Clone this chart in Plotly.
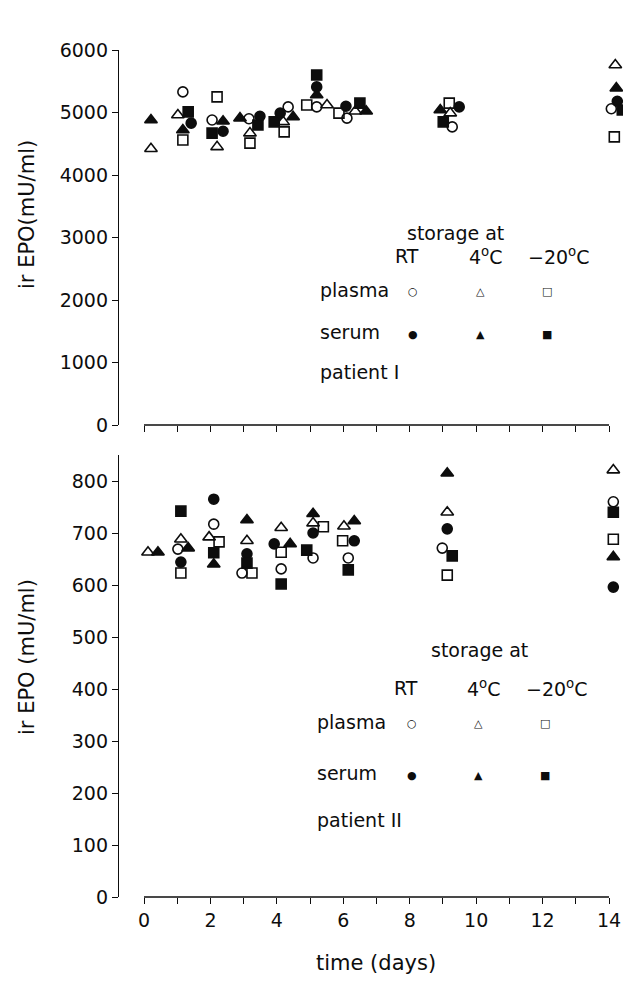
import plotly.graph_objects as go

W, H = 623, 983

# ---------------- Patient I (top panel) ----------------
I_plasma_RT_x = [1.17, 2.05, 3.16, 4.34, 5.2, 6.11, 9.28, 14.07]
I_plasma_RT_y = [5330, 4880, 4900, 5090, 5090, 4910, 4770, 5060]
I_plasma_4C_x = [0.21, 1.02, 2.2, 3.19, 4.19, 5.51, 6.36, 9.22, 14.19]
I_plasma_4C_y = [4420, 4960, 4450, 4670, 4850, 5120, 5020, 4990, 5760]
I_plasma_m20_x = [1.17, 2.2, 3.19, 4.22, 4.9, 5.87, 9.19, 14.16]
I_plasma_m20_y = [4560, 5250, 4510, 4690, 5120, 4990, 5150, 4610]
I_serum_RT_x = [1.42, 2.38, 3.49, 4.1, 5.2, 6.08, 9.49, 14.25]
I_serum_RT_y = [4830, 4700, 4940, 4990, 5410, 5100, 5090, 5180]
I_serum_4C_x = [0.21, 1.17, 2.38, 2.89, 4.49, 5.2, 6.69, 8.92, 14.22]
I_serum_4C_y = [4880, 4720, 4860, 4910, 4930, 5280, 5020, 5040, 5390]
I_serum_m20_x = [1.33, 2.05, 3.43, 3.92, 5.2, 6.5, 9.01, 14.4]
I_serum_m20_y = [5010, 4670, 4800, 4850, 5600, 5150, 4850, 5040]

# ---------------- Patient II (bottom panel) ----------------
II_plasma_RT_x = [1.02, 2.1, 2.95, 4.13, 5.09, 6.15, 8.98, 14.13]
II_plasma_RT_y = [669, 717, 623, 631, 652, 652, 671, 760]
II_plasma_4C_x = [0.12, 1.11, 1.96, 3.1, 4.13, 5.09, 6.02, 9.13, 14.13]
II_plasma_4C_y = [663, 688, 692, 685, 710, 719, 713, 740, 821]
II_plasma_m20_x = [1.11, 2.26, 3.25, 4.13, 5.4, 5.98, 9.13, 14.13]
II_plasma_m20_y = [623, 683, 623, 663, 712, 685, 619, 688]
II_serum_RT_x = [1.11, 2.1, 3.1, 3.92, 5.09, 6.33, 9.13, 14.13]
II_serum_RT_y = [644, 765, 660, 679, 700, 685, 708, 596]
II_serum_4C_x = [0.42, 1.33, 2.1, 3.1, 4.4, 5.09, 6.33, 9.13, 14.13]
II_serum_4C_y = [663, 671, 640, 725, 679, 737, 723, 815, 654]
II_serum_m20_x = [1.11, 2.1, 3.1, 4.13, 4.9, 6.15, 9.28, 14.13]
II_serum_m20_y = [742, 662, 642, 602, 667, 629, 656, 740]

x_major = [0, 2, 4, 6, 8, 10, 12, 14]
x_minor = [1, 3, 5, 7, 9, 11, 13]
top_yticks = [0, 1000, 2000, 3000, 4000, 5000, 6000]
bot_yticks = [0, 100, 200, 300, 400, 500, 600, 700, 800]

FONT = "DejaVu Sans"
INK = "#0d0d0d"

def px(x):
    return x / W

def py(y):
    return 1 - y / H

symbols = {
    ("plasma", "RT"): "circle-open",
    ("plasma", "4C"): "triangle-up-open",
    ("plasma", "m20"): "square-open",
    ("serum", "RT"): "circle",
    ("serum", "4C"): "triangle-up",
    ("serum", "m20"): "square",
}

fig = go.Figure()

series = [
    ("x", "y", "plasma", "RT", I_plasma_RT_x, I_plasma_RT_y),
    ("x", "y", "plasma", "4C", I_plasma_4C_x, I_plasma_4C_y),
    ("x", "y", "plasma", "m20", I_plasma_m20_x, I_plasma_m20_y),
    ("x", "y", "serum", "RT", I_serum_RT_x, I_serum_RT_y),
    ("x", "y", "serum", "4C", I_serum_4C_x, I_serum_4C_y),
    ("x", "y", "serum", "m20", I_serum_m20_x, I_serum_m20_y),
    ("x2", "y2", "plasma", "RT", II_plasma_RT_x, II_plasma_RT_y),
    ("x2", "y2", "plasma", "4C", II_plasma_4C_x, II_plasma_4C_y),
    ("x2", "y2", "plasma", "m20", II_plasma_m20_x, II_plasma_m20_y),
    ("x2", "y2", "serum", "RT", II_serum_RT_x, II_serum_RT_y),
    ("x2", "y2", "serum", "4C", II_serum_4C_x, II_serum_4C_y),
    ("x2", "y2", "serum", "m20", II_serum_m20_x, II_serum_m20_y),
]

for xa, ya, kind, temp, xs, ys in series:
    sym = symbols[(kind, temp)]
    size = 11 if "triangle" in sym else 10
    fig.add_trace(go.Scatter(
        x=xs, y=ys, xaxis=xa, yaxis=ya, mode="markers",
        marker=dict(symbol=sym, size=size, color=INK,
                    line=dict(color=INK, width=1.6)),
        cliponaxis=False, showlegend=False, hoverinfo="x+y",
    ))

# x axis: day 0 at px 144, day 14 at px 609 ; range runs on to the right edge
X0, X14 = 144.0, 609.0
ppd = (X14 - X0) / 14.0
x_dom = [px(X0), 1.0]
x_rng = [0, (W - X0) / ppd]

tickfont = dict(family=FONT, size=19, color=INK)
common = dict(ticks="outside", ticklen=6, tickwidth=1.3, tickcolor=INK,
              showgrid=False, zeroline=False, tickfont=tickfont,
              automargin=False)
xcommon = dict(common, showline=False, range=x_rng, domain=x_dom,
               tickvals=x_major,
               minor=dict(tickvals=x_minor, ticks="outside", ticklen=6,
                          tickwidth=1.3, tickcolor=INK, showgrid=False))
ycommon = dict(common, showline=True, linecolor=INK, linewidth=1.3,
               anchor="free", position=px(118))

fig.update_layout(
    width=W, height=H, autosize=False,
    margin=dict(l=0, r=0, t=0, b=0, pad=0),
    paper_bgcolor="white", plot_bgcolor="white",
    xaxis=dict(xcommon, anchor="y", showticklabels=False),
    yaxis=dict(ycommon, domain=[py(425), py(50)], range=[0, 6000],
               tickvals=top_yticks),
    xaxis2=dict(xcommon, anchor="y2"),
    yaxis2=dict(ycommon, domain=[py(897), py(455)], range=[0, 850],
                tickvals=bot_yticks),
)

# x-axis base lines running from day 0 to day 14
for xr, yr in [("x", "y domain"), ("x2", "y2 domain")]:
    fig.add_shape(type="line", xref=xr, yref=yr, x0=0, x1=14, y0=0, y1=0,
                  line=dict(color=INK, width=1.3))

ann = []

def text(t, x, y, size=19, xanchor="center", angle=0):
    ann.append(dict(text=t, x=px(x), y=py(y), xref="paper", yref="paper",
                    showarrow=False, xanchor=xanchor, yanchor="middle",
                    textangle=angle, font=dict(family=FONT, size=size, color=INK)))

# axis titles
text("ir EPO(mU/ml)", 27, 215, size=21, angle=-90)
text("ir EPO (mU/ml)", 27, 657, size=21, angle=-90)
text("time (days)", 376, 963, size=21)

keys = [
    # storage_y, header_y, rows (plasma, serum, patient), label, left, store_x, cols
    (233, 256, (290, 332, 372), "patient I", 318, 455, (413, 480, 547)),
    (650, 688, (722, 773, 820), "patient II", 315, 479, (412, 478, 545)),
]
for sy, hy, rows, lbl, left, sx, cols in keys:
    text("storage at", sx, sy)
    text("RT", cols[0] - 6, hy)
    text("4<sup>o</sup>C", cols[1] + 6, hy)
    text("\u221220<sup>o</sup>C", cols[2] + 12, hy)
    text("plasma", left, rows[0], xanchor="left")
    text("serum", left, rows[1], xanchor="left")
    text(lbl, left, rows[2], xanchor="left")
    for c, g in zip(cols, ["\u25CB", "\u25B3", "\u25A1"]):
        text(g, c, rows[0] + 1, size=11)
    for c, g in zip(cols, ["\u25CF", "\u25B2", "\u25A0"]):
        text(g, c, rows[1] + 2, size=11)

fig.update_layout(annotations=ann)
fig.write_html(
    "out.html",
    config={"displayModeBar": False},
    post_script="document.body.style.margin='0';document.body.style.overflow='hidden';",
)
